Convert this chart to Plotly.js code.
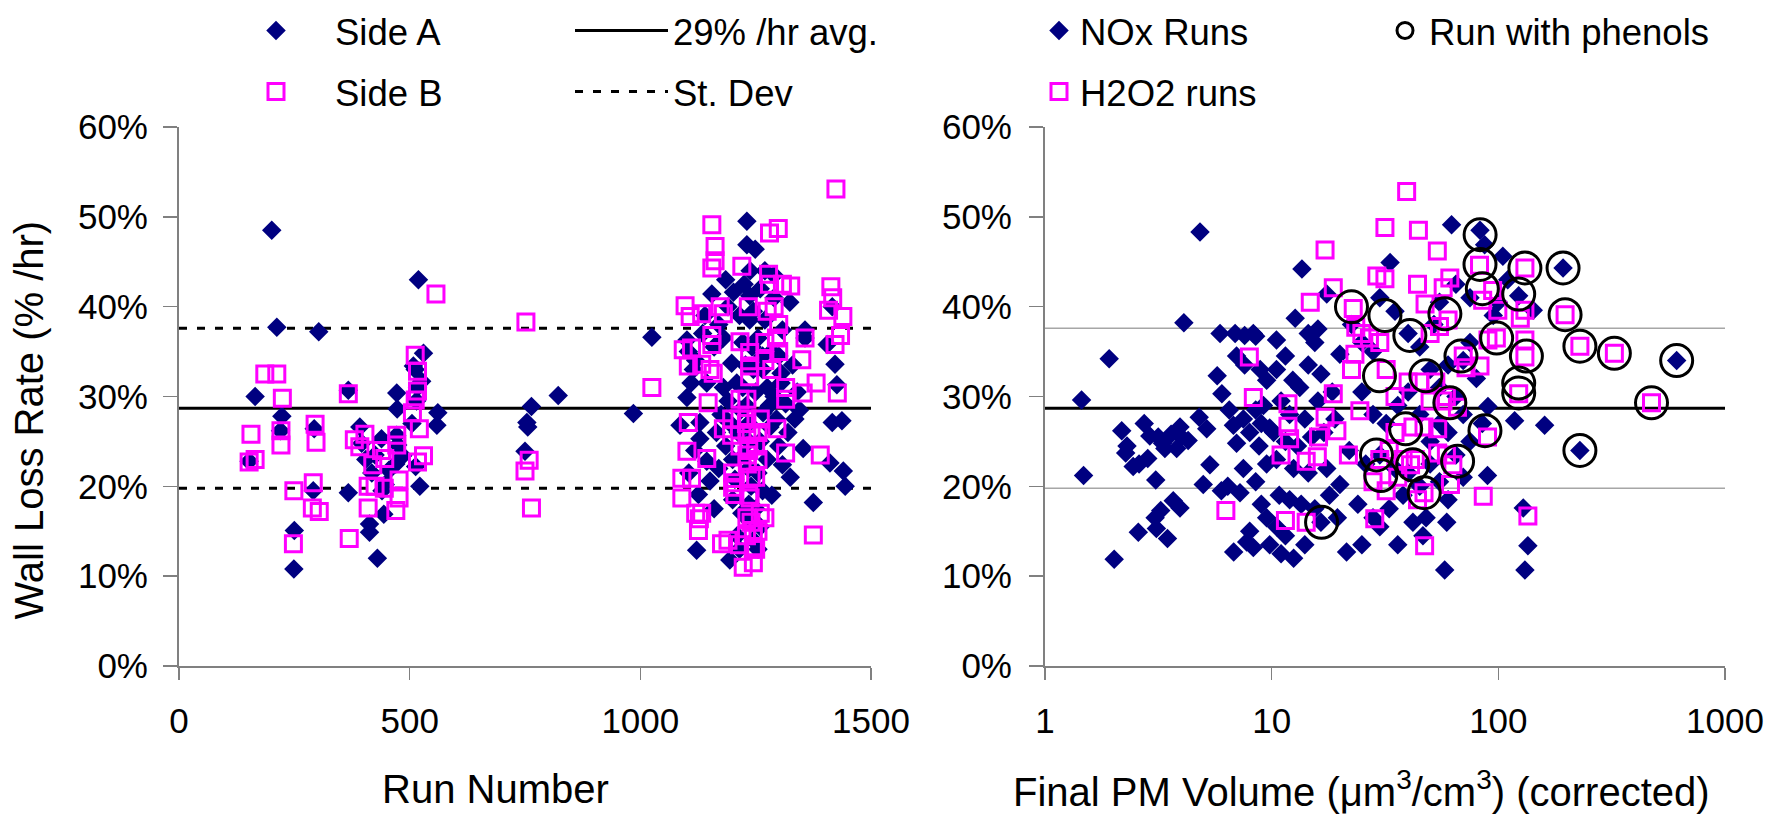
<!DOCTYPE html>
<html>
<head>
<meta charset="utf-8">
<script src="https://cdn.plot.ly/plotly-3.0.1.min.js"></script>
<style>
  html, body { margin: 0; padding: 0; background: #ffffff; }
  #chart { width: 1779px; height: 818px; }
</style>
</head>
<body>
<div id="chart"></div>
<script>
// Wall loss rates per chamber run (% per hour)
const avgRate = 28.7;   // mean wall loss rate
const sdRate = 8.9;     // one standard deviation

// Left panel: rate vs. run number, by reactor side
const sideARun = [152,165,201,212,220,223,249,250,291,293,303,367,367,392,396,405,413,413,418,425,430,439,440,444,447,455,470,472,473,472,474,485,505,508,512,513,515,517,519,522,526,530,559,561,
  750,754,756,764,822,985,1025,
  1086,1101,1101,1104,1105,1110,1115,1118,1120,1122,1126,1129,1129,1135,1140,1144,1144,1151,1155,1160,1160,1165,1170,1170,1175,1180,1180,1185,1185,1190,1190,1194,1195,1198,1200,1200,1202,1205,1209,1210,1212,1215,1215,1218,1220,1222,1222,1225,1225,1228,1230,1231,1231,1235,1235,1235,1235,1237,1237,1238,1240,1240,1242,1245,1245,1245,1249,1250,1250,1255,1255,1255,1260,1260,1260,1265,1265,1265,1266,1270,1270,1275,1275,1280,1281,1285,1285,1290,1290,1290,1295,1300,1300,1305,1305,1308,1308,1315,1320,1324,1325,1330,1335,1340,1345,1353,1357,1357,1375,1405,1411,1416,1416,1422,1426,1437,1440,1444];
const sideARate = [22.8,30.0,48.5,37.7,26.2,27.8,10.8,15.1,19.5,26.4,37.2,30.7,19.3,26.6,24.8,23.0,15.8,14.9,21.5,23.5,12.0,25.3,19.5,16.9,20.2,21.8,22.5,30.4,28.6,25.7,24.6,23.4,27.0,33.4,33.0,22.2,29.5,31.0,43.0,20.0,31.7,34.8,26.8,28.2,
  23.9,27.1,26.6,28.9,30.1,28.1,36.6,
  26.8,36.3,29.9,35.0,21.5,31.5,33.0,24.0,34.0,12.9,19.1,27.1,25.3,37.0,39.0,31.5,22.8,20.6,41.4,35.5,17.5,26.0,38.0,22.0,28.0,36.5,31.0,24.5,43.0,29.5,40.0,11.8,27.0,33.7,23.0,18.5,41.6,20.8,31.5,14.5,26.0,13.0,39.0,28.5,17.0,31.0,36.0,23.5,42.5,33.5,29.0,49.5,46.9,27.0,25.0,22.0,18.0,41.2,38.5,44.0,20.0,16.0,35.5,14.0,33.0,39.5,46.4,30.5,17.5,21.5,13.0,36.5,42.0,25.0,15.5,33.0,19.5,34.5,28.2,38.5,44.0,23.0,31.0,29.0,26.6,35.0,19.0,41.0,43.5,30.0,27.5,34.5,24.5,32.6,31.5,37.4,22.4,29.2,26.0,40.5,21.0,33.5,27.5,30.5,28.5,24.2,37.4,36.5,18.2,35.8,22.6,40.0,27.1,33.6,31.3,27.3,21.7,20.0];

const sideBRun = [152,156,165,186,212,221,221,224,248,249,289,291,295,297,304,367,369,380,392,403,410,410,420,425,439,445,446,470,472,472,477,477,506,512,512,517,517,517,521,530,557,
  750,752,759,764,1025,
  1090,1090,1093,1097,1101,1104,1104,1108,1111,1111,1120,1126,1128,1133,1133,1133,1144,1147,1151,1155,1155,1155,1155,1158,1162,1162,1173,1176,1180,1180,1190,1198,1198,1200,1200,1205,1205,1215,1216,1216,1216,1216,1220,1223,1230,1230,1231,1231,1231,1231,1231,1232,1234,1235,1235,1237,1237,1237,1238,1240,1240,1240,1245,1245,1245,1250,1250,1250,1255,1255,1255,1260,1260,1270,1270,1270,1275,1278,1280,1280,1285,1290,1295,1296,1299,1300,1300,1308,1315,1315,1315,1326,1350,1353,1357,1375,1381,1390,1408,1413,1417,1422,1424,1427,1434,1439];
const sideBRate = [22.7,25.8,23.0,32.5,32.5,26.2,24.6,29.8,13.6,19.5,17.6,20.4,26.9,24.9,17.2,30.3,14.2,25.2,24.4,25.8,17.6,20.0,22.4,20.0,24.0,19.8,23.1,17.3,25.7,24.6,20.7,18.7,28.2,34.6,29.6,32.8,30.6,22.7,26.4,23.4,41.4,
  21.7,38.3,22.9,17.6,31.0,
  20.9,18.7,35.2,40.1,23.9,33.4,27.1,38.9,35.4,20.9,17.0,15.1,16.4,39.2,33.6,17.0,23.1,29.3,33.0,49.1,44.3,36.8,35.8,32.6,46.7,45.1,40.0,13.6,39.2,26.4,14.0,27.5,25.7,21.5,19.9,20.4,19.1,13.5,36.1,29.7,27.5,24.5,44.5,11.0,27.0,14.5,29.7,27.5,26.0,23.5,16.5,22.5,40.0,24.0,19.0,34.9,33.4,32.2,18.7,26.0,21.0,16.0,13.0,11.5,15.1,24.5,21.0,13.0,26.0,23.0,15.0,27.5,17.0,36.0,34.0,16.5,39.5,43.6,48.2,42.5,33.0,40.0,36.5,26.4,48.7,38.0,35.0,42.5,31.0,29.7,23.7,42.3,34.1,30.4,36.5,14.6,31.5,23.5,39.6,42.2,41.0,35.8,53.1,30.4,36.8,38.9];

// Right panel: rate vs. final particle volume (um^3/cm^3), by oxidant
const noxVolume = [1.45,1.48,1.92,2.02,2.18,2.27,2.30,2.45,2.58,2.60,2.74,2.84,2.90,3.06,3.08,3.10,3.16,3.24,3.30,3.38,3.47,3.60,3.68,3.81,3.94,3.94,4.00,4.10,4.28,4.79,4.83,4.99,5.17,5.34,
  5.75,5.92,6.03,6.0,6.4,6.5,6.78,6.8,6.9,7.0,7.0,7.25,7.5,7.5,7.6,7.6,7.76,8.0,8.0,8.3,8.3,8.5,8.5,8.5,8.8,8.9,9.0,9.0,9.2,9.5,9.5,9.5,9.8,9.8,
  10.2,10.5,10.5,10.5,10.5,10.8,11.0,11.0,11.5,11.5,11.5,12.0,12.0,12.4,12.5,12.5,12.7,13.0,13.3,13.5,13.6,14.0,14.0,14.5,14.5,14.5,15.0,15.5,15.5,16.0,16.0,16.5,16.5,17.0,17.5,17.5,18.0,18.5,19.0,19.5,20.0,20.0,
  21.4,22.0,22.5,24.0,25.0,25.0,25.0,26.0,28.0,28.0,28.0,30.0,30.0,30.0,32.0,33.0,33.3,35.0,35.0,36.0,36.0,38.0,40.0,40.0,40.0,42.0,45.0,45.0,45.0,46.5,48.0,50.0,50.0,50.0,52.0,55.0,55.0,55.0,55.0,58.0,59.2,60.0,60.0,60.0,62.2,65.0,65.0,65.0,70.0,70.0,70.0,75.0,75.0,75.0,80.0,83.0,85.0,87.0,89.6,90.0,95.0,
  100.0,104.7,110.0,118.0,123.0,128.8,131.0,135.0,142.6,160.0,193,229,612];
const noxRate = [29.6,21.2,34.2,11.9,26.2,23.7,24.5,22.2,14.9,22.5,27.0,23.1,25.6,16.5,20.7,15.3,25.5,17.3,24.8,24.2,14.2,25.8,18.4,24.2,26.6,17.6,25.5,38.2,25.1,27.7,48.3,20.2,26.4,22.4,
  32.3,37.0,30.3,19.5,20.0,28.5,26.8,12.7,37.0,34.5,24.8,19.3,27.5,22.0,36.8,33.5,13.8,26.0,15.0,37.0,13.2,36.7,28.5,20.5,24.5,33.0,27.0,18.0,29.0,31.8,22.5,16.5,26.5,13.5,
  26.0,36.3,33.0,23.0,15.5,19.0,29.5,12.5,34.5,25.0,14.5,28.0,18.5,31.8,22.0,12.0,38.7,24.5,31.0,18.0,44.2,27.5,13.5,37.0,33.5,21.5,25.5,36.0,17.5,37.5,29.5,32.5,16.0,26.0,41.4,22.0,19.0,30.5,27.5,16.5,34.7,20.2,
  12.7,24.0,38.0,18.0,36.0,30.5,13.5,22.5,35.0,28.0,16.5,41.0,23.5,15.5,27.0,17.5,44.9,39.5,22.0,29.0,13.5,19.0,37.0,30.5,21.5,16.0,35.5,28.0,20.0,14.5,16.5,33.0,25.0,22.5,38.0,40.5,31.0,27.0,20.5,10.7,16.0,33.5,26.0,18.5,49.1,42.5,30.0,23.5,34.0,28.0,21.0,41.0,36.0,25.0,32.0,48.5,27.0,46.9,21.2,28.9,39.0,
  40.5,45.6,43.0,27.3,41.2,17.6,10.7,13.4,39.6,26.8,44.3,24.0,34.0];

const h2o2Volume = [6.28,7.97,8.3,11.0,11.5,11.8,11.8,12.0,14.2,14.2,14.8,15.9,16.1,17.2,17.2,18.7,18.7,19.4,21.8,22.5,22.9,23.3,23.5,24.5,25.0,27.0,28.0,28.5,29.1,30.0,30.0,31.6,31.6,32.0,32.0,33.0,35.0,35.0,36.0,38.0,39.4,40.0,41.0,42.0,43.0,44.0,44.0,44.4,45.0,47.0,47.0,47.3,47.5,50.0,50.0,53.0,53.8,54.0,54.0,55.0,57.0,57.1,59.0,59.0,60.0,61.1,61.5,63.0,66.0,70.0,72.0,82.6,83.0,85.3,85.8,89.6,90.0,94.4,98.0,99.5,123.0,125.0,131.0,131.0,131.0,131.0,135.0,197,229,325,474];
const h2o2Rate = [17.3,34.4,29.9,23.5,16.2,29.2,26.7,25.3,22.8,16.0,40.5,23.3,25.5,46.3,27.7,42.1,30.3,26.2,23.5,33.0,39.8,34.7,37.7,28.4,37.0,36.5,20.5,16.4,43.4,36.0,23.0,48.8,43.1,33.0,19.5,24.0,30.0,26.0,21.0,23.0,52.8,31.6,22.4,26.6,23.0,42.5,18.5,48.5,31.6,26.6,19.3,13.4,40.3,37.0,29.5,31.6,46.2,26.4,23.7,37.8,29.5,42.1,30.0,23.5,38.5,43.2,20.2,22.4,28.8,34.5,33.2,44.6,33.4,40.7,18.9,25.5,36.3,41.8,36.5,39.6,30.3,38.7,44.3,39.6,36.3,34.4,16.7,39.1,35.6,34.8,29.3];

const phenolVolume = [16.6,22.5,29.0,29.9,30.3,31.6,39.0,40.7,41.9,47.1,47.9,58.1,61.1,66.1,68.4,83.1,83.0,85.0,87.3,98.3,123,123,123,131,133,193,197,229,229,325,474,612];
const phenolRate = [16.0,40.0,23.5,32.3,21.2,39.0,26.4,36.8,22.4,19.3,32.3,39.2,29.3,22.8,34.5,48.0,44.7,42.0,26.2,36.5,41.4,31.5,30.4,44.3,34.5,44.3,39.1,35.6,24.0,34.8,29.3,34.0];

const runRange = [0, 1500];
const volumeRange = [1, 1000];
const rateTicks = [0, 10, 20, 30, 40, 50, 60];
const rateLabels = ['0%', '10%', '20%', '30%', '40%', '50%', '60%'];

const FONT = 'Liberation Sans, Arial, sans-serif';
const NAVY = '#000080';
const MAGENTA = '#FF00FF';
const W = 1779, H = 818;

const diamond = {symbol: 'diamond', size: 15, color: NAVY, line: {width: 0}};
const square = {symbol: 'square-open', size: 16, color: MAGENTA, line: {width: 3, color: MAGENTA}};
const ring = {symbol: 'circle-open', size: 32, color: 'black', line: {width: 3, color: 'black'}};

const traces = [
  // left panel reference lines
  {x: runRange, y: [avgRate, avgRate], mode: 'lines', name: '29% /hr avg.', legend: 'legend3',
   line: {color: 'black', width: 3}, xaxis: 'x', yaxis: 'y', hoverinfo: 'skip'},
  {x: [runRange[0], runRange[1], null, runRange[0], runRange[1]],
   y: [avgRate + sdRate, avgRate + sdRate, null, avgRate - sdRate, avgRate - sdRate],
   mode: 'lines', name: 'St. Dev', legend: 'legend4',
   line: {color: 'black', width: 3, dash: '8px,10px'}, xaxis: 'x', yaxis: 'y', hoverinfo: 'skip'},
  // left panel points
  {x: sideARun, y: sideARate, mode: 'markers', name: 'Side A', legend: 'legend', marker: diamond, xaxis: 'x', yaxis: 'y'},
  {x: sideBRun, y: sideBRate, mode: 'markers', name: 'Side B', legend: 'legend2', marker: square, xaxis: 'x', yaxis: 'y'},
  // right panel reference lines
  {x: [volumeRange[0], volumeRange[1], null, volumeRange[0], volumeRange[1]],
   y: [avgRate + sdRate, avgRate + sdRate, null, avgRate - sdRate, avgRate - sdRate],
   mode: 'lines', showlegend: false, line: {color: '#a6a6a6', width: 1.5}, xaxis: 'x2', yaxis: 'y2', hoverinfo: 'skip'},
  {x: volumeRange, y: [avgRate, avgRate], mode: 'lines', showlegend: false,
   line: {color: 'black', width: 3}, xaxis: 'x2', yaxis: 'y2', hoverinfo: 'skip'},
  // right panel points
  {x: noxVolume, y: noxRate, mode: 'markers', name: 'NOx Runs', legend: 'legend5', marker: diamond, xaxis: 'x2', yaxis: 'y2'},
  {x: h2o2Volume, y: h2o2Rate, mode: 'markers', name: 'H2O2 runs', legend: 'legend6', marker: square, xaxis: 'x2', yaxis: 'y2'},
  {x: phenolVolume, y: phenolRate, mode: 'markers', name: 'Run with phenols', legend: 'legend7', marker: ring, xaxis: 'x2', yaxis: 'y2'}
];

const yDomain = [1 - 664 / H, 1 - 117.5 / H];

const axisBase = {
  showgrid: false, zeroline: false, showline: true,
  linecolor: '#808080', linewidth: 2,
  ticks: 'outside', tickcolor: '#808080', tickwidth: 1.5,
  tickfont: {family: FONT, size: 35, color: 'black'}
};

function legendAt(left, centerY, itemwidth) {
  return {
    x: left / W, y: 1 - centerY / H, xanchor: 'left', yanchor: 'middle',
    itemwidth: itemwidth, bgcolor: 'rgba(0,0,0,0)', borderwidth: 0,
    font: {family: FONT, size: 36.5, color: 'black'}
  };
}

const titleFont = {family: FONT, size: 40, color: 'black'};

const layout = {
  width: W, height: H,
  margin: {l: 0, r: 0, t: 0, b: 0},
  paper_bgcolor: 'white', plot_bgcolor: 'white',
  font: {family: FONT, size: 35, color: 'black'},
  showlegend: true,
  xaxis: Object.assign({}, axisBase, {
    domain: [179 / W, 871 / W], range: runRange, tickvals: [0, 500, 1000, 1500],
    ticktext: ['0', '500', '1000', '1500'],
    ticklen: 12, ticklabelstandoff: 11, anchor: 'y'
  }),
  yaxis: Object.assign({}, axisBase, {
    domain: yDomain, range: [0, 60], tickvals: rateTicks, ticktext: rateLabels,
    ticklen: 14, ticklabelstandoff: 8, anchor: 'x'
  }),
  xaxis2: Object.assign({}, axisBase, {
    domain: [1045 / W, 1725 / W], type: 'log', range: [0, 3],
    tickvals: [1, 10, 100, 1000], ticktext: ['1', '10', '100', '1000'],
    ticklen: 12, ticklabelstandoff: 11, anchor: 'y2'
  }),
  yaxis2: Object.assign({}, axisBase, {
    domain: yDomain, range: [0, 60], tickvals: rateTicks, ticktext: rateLabels,
    ticklen: 14, ticklabelstandoff: 10, anchor: 'x2'
  }),
  legend: legendAt(217, 20, 108),
  legend2: legendAt(217, 82, 108),
  legend3: legendAt(570, 20, 93),
  legend4: legendAt(570, 82, 93),
  legend5: legendAt(1038, 20, 32),
  legend6: legendAt(1038, 82, 32),
  legend7: legendAt(1381, 20, 38),
  annotations: [
    {text: 'Wall Loss Rate (% /hr)', xref: 'paper', yref: 'paper', x: 29 / W, y: 1 - 415 / H,
     textangle: -90, showarrow: false, xanchor: 'center', yanchor: 'middle', font: titleFont},
    {text: 'Run Number', xref: 'paper', yref: 'paper', x: 495 / W, y: 1 - 789 / H,
     showarrow: false, xanchor: 'center', yanchor: 'middle', font: titleFont},
    {text: 'Final PM Volume (\u03bcm<sup>3</sup>/cm<sup>3</sup>) (corrected)', xref: 'paper', yref: 'paper',
     x: 1361 / W, y: 1 - 789 / H, showarrow: false, xanchor: 'center', yanchor: 'middle', font: titleFont}
  ]
};

Plotly.newPlot('chart', traces, layout, {staticPlot: true, displayModeBar: false});
</script>
</body>
</html>
